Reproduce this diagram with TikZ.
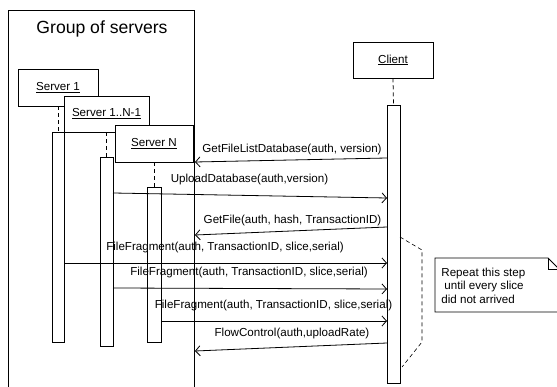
\documentclass[tikz,border=0pt]{standalone}
\usepackage{fontspec}
\setmainfont{Liberation Sans}
\usetikzlibrary{arrows.meta}
\begin{document}
\begin{tikzpicture}[x=1pt,y=-1pt,line width=0.8pt,
  txt/.style={font=\fontsize{11.6}{13.5}\selectfont,inner sep=0pt},
  objbox/.style={draw,fill=white,font=\fontsize{11.6}{13.5}\selectfont,inner sep=0pt},
  lifeline/.style={dash pattern=on 4pt off 3pt},
  actbar/.style={draw,fill=white,inner sep=0pt},
  msgarrow/.style={-{Straight Barb[length=4.5pt,width=10pt]}},
  bracket/.style={dash pattern=on 4pt off 3pt,line width=0.6pt}]
\useasboundingbox (0,0) rectangle (557,387);
\clip (0,0) rectangle (557,387);
% group frame
\coordinate (gbl) at (8,387);
\coordinate (gtl) at (8,10);
\coordinate (gtr) at (194,10);
\coordinate (gbr) at (194,387);
\draw (gbl) -- (gtl) -- (gtr) -- (gbr);
\node[inner sep=0pt,font=\fontsize{17.6}{20}\selectfont] (title) at (102,29) {Group of servers};
% server boxes
\node[objbox,minimum width=80pt,minimum height=37pt] (s1) at (58,87.5) {\underline{Server 1}};
\node[objbox,minimum width=85pt,minimum height=36pt] (s2) at (106.5,114) {\underline{Server 1..N-1}};
\node[objbox,minimum width=78pt,minimum height=37pt] (s3) at (154,143.5) {\underline{Server N}};
\node[objbox,minimum width=80pt,minimum height=36pt] (cl) at (393,60) {\underline{Client}};
% activation bars
\node[actbar,minimum width=12pt,minimum height=210pt] (b1) at (58,237) {};
\node[actbar,minimum width=13pt,minimum height=189pt] (b2) at (106.5,251.5) {};
\node[actbar,minimum width=14pt,minimum height=155pt] (b3) at (154,264.5) {};
\node[actbar,minimum width=13pt,minimum height=278pt] (bc) at (393.5,244) {};
% lifelines
\draw[lifeline] (s1.south) -- (b1.north);
\draw[lifeline] (s2.south) -- (b2.north);
\draw[lifeline] (s3.south) -- (b3.north);
\draw[lifeline] (cl.south) -- (bc.north);
% message end points
\coordinate (m1a) at (387,158);   \coordinate (m1b) at (195,162);
\coordinate (m2a) at (113,193);   \coordinate (m2b) at (387,198);
\coordinate (m3a) at (387,227);   \coordinate (m3b) at (195,235);
\coordinate (m4a) at (64,263);    \coordinate (m4b) at (387,263);
\coordinate (m5a) at (113,288);   \coordinate (m5b) at (387,289);
\coordinate (m6a) at (161,321);   \coordinate (m6b) at (387,321);
\coordinate (m7a) at (387,343);   \coordinate (m7b) at (195,351);
\draw[msgarrow] (m1a) -- (m1b);
\draw[msgarrow] (m2a) -- (m2b);
\draw[msgarrow] (m3a) -- (m3b);
\draw[msgarrow] (m4a) -- (m4b);
\draw[msgarrow] (m5a) -- (m5b);
\draw[msgarrow] (m6a) -- (m6b);
\draw[msgarrow] (m7a) -- (m7b);
% labels
\node[txt] (l1) at (292,150) {GetFileListDatabase(auth, version)};
\node[txt] (l2) at (249.5,180) {UploadDatabase(auth,version)};
\node[txt] (l3) at (292.5,220) {GetFile(auth, hash, TransactionID)};
\node[txt] (l4) at (225,248) {FileFragment(auth, TransactionID, slice,serial)};
\node[txt] (l5) at (249,273) {FileFragment(auth, TransactionID, slice,serial)};
\node[txt] (l6) at (273.5,306) {FileFragment(auth, TransactionID, slice,serial)};
\node[txt] (l7) at (292,334) {FlowControl(auth,uploadRate)};
% repeat bracket
\coordinate (r1) at (400,237);
\coordinate (r2) at (422,250);
\coordinate (r3) at (422,342);
\coordinate (r4) at (402,367);
\draw[bracket] (r1) -- (r2) -- (r3) -- (r4);
% note
\coordinate (n1) at (435,258);
\coordinate (n2) at (548,258);
\coordinate (n3) at (559,269);
\coordinate (n4) at (559,312);
\coordinate (n5) at (435,312);
\coordinate (nf) at (548,269);
\draw (n1) -- (n2) -- (n3) -- (n4) -- (n5) -- cycle;
\draw (n2) -- (nf) -- (n3);
\node[txt,align=left,anchor=west] (note) at (441,285.5) {Repeat this step\\\hspace*{3pt}until every slice\\did not arrived};
\end{tikzpicture}
\end{document}
